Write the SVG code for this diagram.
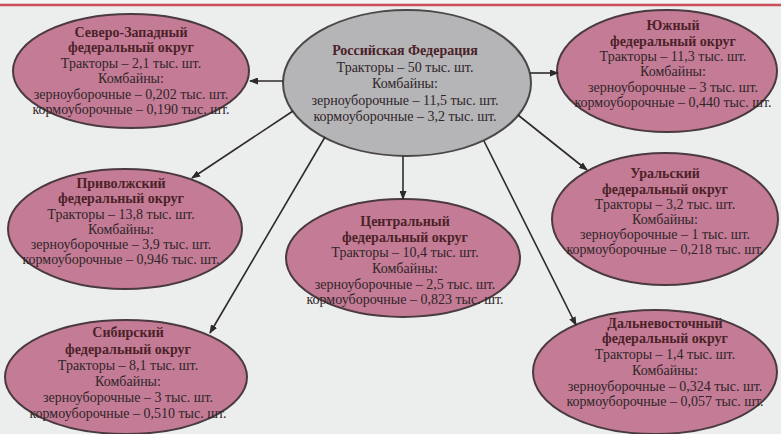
<svg xmlns="http://www.w3.org/2000/svg" width="781" height="434" viewBox="0 0 781 434">
<defs>
<marker id="ah" markerUnits="userSpaceOnUse" markerWidth="9" markerHeight="7" refX="8" refY="3.5" orient="auto">
<path d="M0,0 L9,3.5 L0,7 z" fill="#2e2a2c"/>
</marker>
<style>
.bg{fill:#eceded}
.node{fill:#c47c96;stroke:#4a3a40;stroke-width:2}
.root{fill:#b5b4b7;stroke:#4a4748;stroke-width:2}
.t{font-family:"Liberation Serif","Times New Roman",serif;font-size:14px;fill:#2f2528;text-anchor:middle}
.h{font-family:"Liberation Serif","Times New Roman",serif;font-size:14px;font-weight:bold;fill:#4b2228;text-anchor:middle}
.c{stroke:#2e2a2c;stroke-width:1.6;fill:none;marker-end:url(#ah)}
</style>
</defs>
<rect class="bg" x="0" y="0" width="781" height="434"/>
<rect x="0" y="0" width="781" height="3" fill="#f4f4f4"/>
<line x1="0" y1="5" x2="781" y2="5" stroke="#c9505c" stroke-width="2.5"/>

<g id="n-rf">
<ellipse class="root" cx="407" cy="83" rx="124" ry="73"/>
<text class="h" x="405" y="55">Российская Федерация</text>
<text class="t" x="405" y="72">Тракторы – 50 тыс. шт.</text>
<text class="t" x="405" y="88">Комбайны:</text>
<text class="t" x="405" y="105">зерноуборочные – 11,5 тыс. шт.</text>
<text class="t" x="405" y="121">кормоуборочные – 3,2 тыс. шт.</text>
</g>

<g id="n-nw">
<ellipse class="node" cx="131" cy="71" rx="118" ry="57"/>
<text class="h" x="131" y="37">Северо-Западный</text>
<text class="h" x="131" y="52">федеральный округ</text>
<text class="t" x="131" y="68">Тракторы – 2,1 тыс. шт.</text>
<text class="t" x="131" y="83">Комбайны:</text>
<text class="t" x="131" y="99">зерноуборочные – 0,202 тыс. шт.</text>
<text class="t" x="131" y="114">кормоуборочные – 0,190 тыс. шт.</text>
</g>

<g id="n-south">
<ellipse class="node" cx="667" cy="71" rx="110" ry="61"/>
<text class="h" x="673" y="30">Южный</text>
<text class="h" x="673" y="46">федеральный округ</text>
<text class="t" x="673" y="61">Тракторы – 11,3 тыс. шт.</text>
<text class="t" x="673" y="76">Комбайны:</text>
<text class="t" x="673" y="92">зерноуборочные – 3 тыс. шт.</text>
<text class="t" x="673" y="107">кормоуборочные – 0,440 тыс. шт.</text>
</g>

<g id="n-volga">
<ellipse class="node" cx="125" cy="229" rx="117" ry="60"/>
<text class="h" x="121" y="188">Приволжский</text>
<text class="h" x="121" y="203">федеральный округ</text>
<text class="t" x="121" y="219">Тракторы – 13,8 тыс. шт.</text>
<text class="t" x="121" y="234">Комбайны:</text>
<text class="t" x="121" y="249">зерноуборочные – 3,9 тыс. шт.</text>
<text class="t" x="121" y="264">кормоуборочные – 0,946 тыс. шт.</text>
</g>

<g id="n-central">
<ellipse class="node" cx="403" cy="258" rx="117" ry="59"/>
<text class="h" x="405" y="226">Центральный</text>
<text class="h" x="405" y="242">федеральный округ</text>
<text class="t" x="405" y="257">Тракторы – 10,4 тыс. шт.</text>
<text class="t" x="405" y="273">Комбайны:</text>
<text class="t" x="405" y="289">зерноуборочные – 2,5 тыс. шт.</text>
<text class="t" x="405" y="304">кормоуборочные – 0,823 тыс. шт.</text>
</g>

<g id="n-ural">
<ellipse class="node" cx="665" cy="219" rx="113" ry="66"/>
<text class="h" x="665" y="178">Уральский</text>
<text class="h" x="665" y="194">федеральный округ</text>
<text class="t" x="665" y="209">Тракторы – 3,2 тыс. шт.</text>
<text class="t" x="665" y="224">Комбайны:</text>
<text class="t" x="665" y="239">зерноуборочные – 1 тыс. шт.</text>
<text class="t" x="665" y="254">кормоуборочные – 0,218 тыс. шт.</text>
</g>

<g id="n-siberia">
<ellipse class="node" cx="126" cy="377" rx="121" ry="57"/>
<text class="h" x="128" y="337">Сибирский</text>
<text class="h" x="128" y="354">федеральный округ</text>
<text class="t" x="128" y="370">Тракторы – 8,1 тыс. шт.</text>
<text class="t" x="128" y="386">Комбайны:</text>
<text class="t" x="128" y="402">зерноуборочные – 3 тыс. шт.</text>
<text class="t" x="128" y="418">кормоуборочные – 0,510 тыс. шт.</text>
</g>

<g id="n-fareast">
<ellipse class="node" cx="655" cy="372" rx="122" ry="62"/>
<text class="h" x="665" y="328">Дальневосточный</text>
<text class="h" x="665" y="343">федеральный округ</text>
<text class="t" x="665" y="359">Тракторы – 1,4 тыс. шт.</text>
<text class="t" x="665" y="375">Комбайны:</text>
<text class="t" x="665" y="391">зерноуборочные – 0,324 тыс. шт.</text>
<text class="t" x="665" y="406">кормоуборочные – 0,057 тыс. шт.</text>
</g>

<g id="connectors">
<line class="c" x1="283" y1="81" x2="250" y2="81"/>
<line class="c" x1="530" y1="73" x2="558" y2="73"/>
<line class="c" x1="293" y1="111" x2="192" y2="178"/>
<line class="c" x1="325" y1="137" x2="210" y2="333"/>
<line class="c" x1="403" y1="156" x2="403" y2="199"/>
<line class="c" x1="518" y1="115" x2="587" y2="170"/>
<line class="c" x1="484" y1="141" x2="576" y2="325"/>
</g>
</svg>
